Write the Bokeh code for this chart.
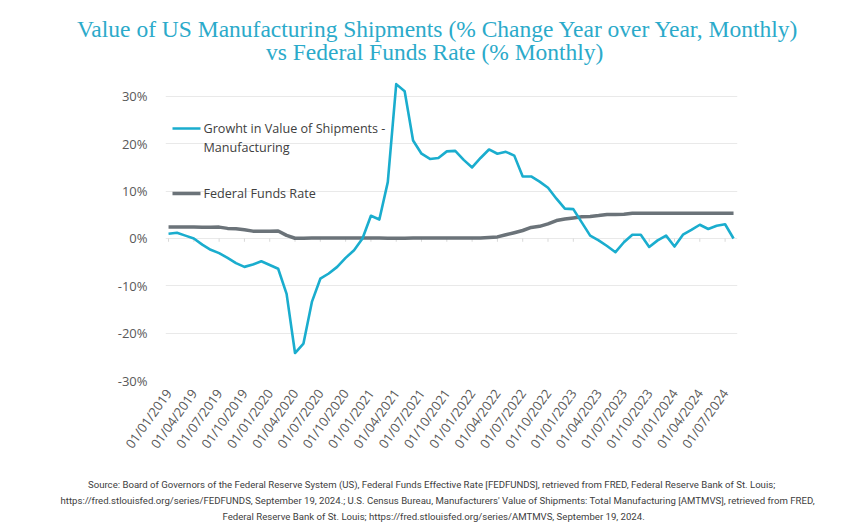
import numpy as np
from bokeh.plotting import figure
from bokeh.models import Range1d, FixedTicker, Label, BoxAnnotation, ColumnDataSource, Title
from bokeh.embed import file_html
from bokeh.resources import INLINE

# ---------------- data (monthly, Jan 2019 - Aug 2024) ----------------
month_index = list(range(68))

shipments_growth = [
    1.0, 1.2, 0.6, 0.0, -1.3, -2.4, -3.1, -4.1, -5.2, -6.0, -5.5, -4.8,
    -5.6, -6.4, -11.7, -24.2, -22.2, -13.4, -8.5, -7.4, -6.0, -4.1, -2.5, 0.0,
    4.8, 4.0, 11.9, 32.6, 31.1, 20.7, 17.9, 16.8, 17.0, 18.4, 18.5, 16.6,
    15.0, 17.0, 18.8, 17.9, 18.3, 17.5, 13.1, 13.1, 12.0, 10.7, 8.4, 6.3,
    6.2, 3.4, 0.6, -0.4, -1.6, -2.9, -0.8, 0.8, 0.8, -1.8, -0.4, 0.6,
    -1.7, 0.8, 1.8, 2.9, 2.0, 2.7, 3.0, 0.0,
]

fed_funds_rate = [
    2.40, 2.40, 2.41, 2.42, 2.39, 2.38, 2.40, 2.13, 2.04, 1.83, 1.55, 1.55,
    1.55, 1.58, 0.65, 0.05, 0.05, 0.08, 0.09, 0.10, 0.09, 0.09, 0.09, 0.09,
    0.09, 0.08, 0.07, 0.07, 0.06, 0.08, 0.10, 0.09, 0.08, 0.08, 0.08, 0.08,
    0.08, 0.08, 0.20, 0.33, 0.77, 1.21, 1.68, 2.33, 2.56, 3.08, 3.78, 4.10,
    4.33, 4.57, 4.65, 4.83, 5.06, 5.08, 5.12, 5.33, 5.33, 5.33, 5.33, 5.33,
    5.33, 5.33, 5.33, 5.33, 5.33, 5.33, 5.33, 5.33,
]

x_tick_positions = list(range(0, 67, 3))
x_tick_labels = [
    "01/01/2019", "01/04/2019", "01/07/2019", "01/10/2019",
    "01/01/2020", "01/04/2020", "01/07/2020", "01/10/2020",
    "01/01/2021", "01/04/2021", "01/07/2021", "01/10/2021",
    "01/01/2022", "01/04/2022", "01/07/2022", "01/10/2022",
    "01/01/2023", "01/04/2023", "01/07/2023", "01/10/2023",
    "01/01/2024", "01/04/2024", "01/07/2024",
]
y_tick_positions = [-30, -20, -10, 0, 10, 20, 30]
y_tick_labels = ["-30%", "-20%", "-10%", "0%", "10%", "20%", "30%"]

series_names = ["Growht in Value of Shipments -", "Manufacturing", "Federal Funds Rate"]
title_lines = [
    "Value of US Manufacturing Shipments (% Change Year over Year, Monthly)",
    "vs Federal Funds Rate (% Monthly)",
]
source_lines = [
    "Source: Board of Governors of the Federal Reserve System (US), Federal Funds Effective Rate [FEDFUNDS], retrieved from FRED, Federal Reserve Bank of St. Louis;",
    "https://fred.stlouisfed.org/series/FEDFUNDS, September 19, 2024.; U.S. Census Bureau, Manufacturers' Value of Shipments: Total Manufacturing [AMTMVS], retrieved from FRED,",
    "Federal Reserve Bank of St. Louis; https://fred.stlouisfed.org/series/AMTMVS, September 19, 2024.",
]

# ---------------- styling ----------------
BLUE = "#1AADCE"
GRAY = "#6B7379"
TITLE_C = "#2BAACA"
TICK_C = "#595959"
TEXT_C = "#404040"
GRID_C = "#E9E9E9"
SANS = "Open Sans"

FRAME_LEFT, FRAME_RIGHT, FRAME_TOP, FRAME_BOTTOM = 165, 737, 77, 380

# left offsets (relative to frame left) that centre each text line on the page
title_offsets = [-88.5, 100.5]
source_offsets = [-77.5, -105, 57]


def fy(y_from_top):
    return FRAME_BOTTOM - y_from_top


p = figure(
    width=865, height=532,
    x_range=Range1d(-0.36, 67.47), y_range=Range1d(-30, 34),
    output_backend="svg", toolbar_location=None,
    min_border_left=FRAME_LEFT, min_border_right=865 - FRAME_RIGHT,
    min_border_top=FRAME_TOP, min_border_bottom=532 - FRAME_BOTTOM,
)
p.title = None
p.outline_line_color = None
p.background_fill_color = "white"
p.border_fill_color = "white"

p.xgrid.grid_line_color = None
p.ygrid.grid_line_color = GRID_C
p.ygrid.grid_line_width = 1
p.ygrid.ticker = FixedTicker(ticks=y_tick_positions)

p.yaxis.ticker = FixedTicker(ticks=y_tick_positions)
p.yaxis.major_label_overrides = {v: s for v, s in zip(y_tick_positions, y_tick_labels)}
p.yaxis.axis_line_color = None
p.yaxis.major_tick_line_color = None
p.yaxis.minor_tick_line_color = None
p.yaxis.major_label_standoff = 12
p.yaxis.major_label_text_font = SANS
p.yaxis.major_label_text_font_size = "13px"
p.yaxis.major_label_text_color = TICK_C

p.xaxis.ticker = FixedTicker(ticks=x_tick_positions)
p.xaxis.major_label_overrides = {v: s for v, s in zip(x_tick_positions, x_tick_labels)}
p.xaxis.axis_line_color = None
p.xaxis.major_tick_line_color = None
p.xaxis.minor_tick_line_color = None
p.xaxis.major_label_orientation = 0.95
p.xaxis.major_label_standoff = 4
p.xaxis.major_label_text_font = SANS
p.xaxis.major_label_text_font_size = "13px"
p.xaxis.major_label_text_color = TICK_C

tick_src = ColumnDataSource(dict(x=x_tick_positions, y0=[0] * len(x_tick_positions),
                                 y1=[-0.7] * len(x_tick_positions)))
p.segment(x0="x", y0="y0", x1="x", y1="y1", source=tick_src, line_color="#D9D9D9", line_width=1)

src = ColumnDataSource(dict(x=month_index, ship=shipments_growth, ffr=fed_funds_rate))
p.line("x", "ffr", source=src, line_color=GRAY, line_width=3.5, line_join="round")
p.line("x", "ship", source=src, line_color=BLUE, line_width=2.6, line_join="round")

# legend (manual, inside the frame, top-left)
for col, yc, th in [(BLUE, 128, 2.6), (GRAY, 193, 3.6)]:
    p.add_layout(BoxAnnotation(left=7, right=35, bottom=fy(yc) - th / 2, top=fy(yc) + th / 2,
                               left_units="screen", right_units="screen",
                               bottom_units="screen", top_units="screen",
                               fill_color=col, fill_alpha=1, line_color=None))
for txt, yc in zip(series_names, [128, 147, 193]):
    p.add_layout(Label(x=38, y=fy(yc), x_units="screen", y_units="screen", text=txt,
                       text_font=SANS, text_font_size="12.6px", text_color=TEXT_C,
                       text_baseline="middle", text_align="left"))

# ---- title above: spacer, then line 2, then line 1 (stacking outward) ----
p.add_layout(Title(text=" ", text_font_size="1px", standoff=10), "above")
p.add_layout(Title(text=title_lines[1], align="left", offset=title_offsets[1],
                   text_font="Liberation Serif", text_font_size="23.5px",
                   text_font_style="normal", text_color=TITLE_C, standoff=0), "above")
p.add_layout(Title(text=title_lines[0], align="left", offset=title_offsets[0],
                   text_font="Liberation Serif", text_font_size="23.5px",
                   text_font_style="normal", text_color=TITLE_C, standoff=-10), "above")

# ---- source notes below: spacer, then three lines ----
p.add_layout(Title(text=" ", text_font_size="1px", standoff=12), "below")
for txt, off in zip(source_lines, source_offsets):
    p.add_layout(Title(text=txt, align="left", offset=off,
                       text_font="Roboto", text_font_size="9.6px",
                       text_font_style="normal", text_color=TEXT_C, standoff=3), "below")

open("out.html", "w").write(file_html(p, INLINE))
